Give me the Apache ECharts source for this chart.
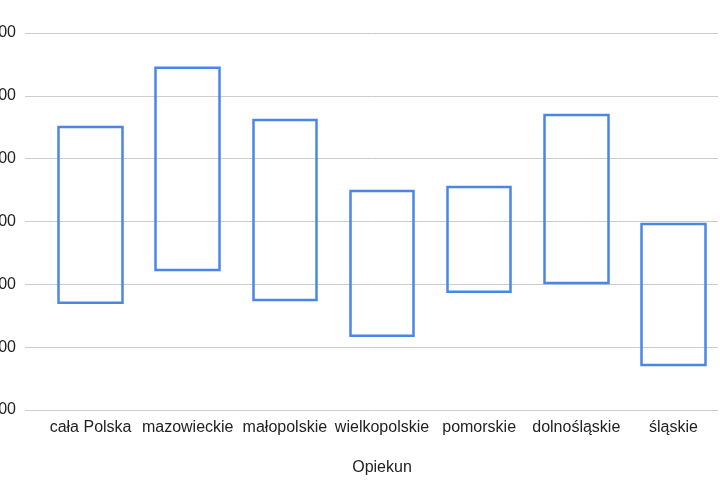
<!DOCTYPE html>
<html>
<head>
<meta charset="utf-8">
<script src="https://cdn.jsdelivr.net/npm/echarts@6/dist/echarts.min.js"></script>
<style>
  html, body { margin: 0; padding: 0; background: #fff; }
  #chart { width: 720px; height: 500px; }
</style>
</head>
<body>
<div id="chart"></div>
<script>
// dane
const regions = ["cała Polska", "mazowieckie", "małopolskie", "wielkopolskie", "pomorskie", "dolnośląskie", "śląskie"];
const lowValues = [2741, 2846, 2750, 2636, 2776, 2804, 2543];
const highValues = [3301, 3489, 3323, 3097, 3110, 3339, 2992];
const yTicks = [2400, 2600, 2800, 3000, 3200, 3400, 3600];

const boxes = regions.map((r, i) => [lowValues[i], highValues[i], lowValues[i], highValues[i]]);

const blue = "#4a86e8";
const font = "Liberation Sans, Arial, sans-serif";

let myChart = echarts.init(document.getElementById("chart"));
myChart.setOption({
  animation: false,
  grid: [
    // siatka tła (linie poziome)
    { left: 25, right: 2, top: 33, bottom: 90, outerBoundsMode: "none" },
    // właściwy wykres
    { left: 42, right: -2, top: 33, bottom: 90, outerBoundsMode: "none" }
  ],
  xAxis: [
    { gridIndex: 0, type: "category", data: regions, show: false },
    {
      gridIndex: 1,
      type: "category",
      data: regions,
      axisLine: { show: false },
      axisTick: { show: false },
      axisLabel: { color: "#222", fontSize: 16, fontFamily: font, margin: 10, interval: 0 },
      name: "Opiekun",
      nameLocation: "middle",
      nameGap: 50,
      nameTextStyle: { color: "#222", fontSize: 16, fontFamily: font }
    }
  ],
  yAxis: [
    {
      gridIndex: 0,
      type: "value",
      min: yTicks[0],
      max: yTicks[yTicks.length - 1],
      interval: 200,
      axisLine: { show: false },
      axisTick: { show: false },
      splitLine: { lineStyle: { color: "#cccccc", width: 1 } },
      axisLabel: { color: "#222", fontSize: 16, fontFamily: font, margin: 9, formatter: (v) => String(v) }
    },
    {
      gridIndex: 1,
      type: "value",
      min: yTicks[0],
      max: yTicks[yTicks.length - 1],
      interval: 200,
      show: false,
      splitLine: { show: false }
    }
  ],
  series: [
    {
      type: "candlestick",
      xAxisIndex: 1,
      yAxisIndex: 1,
      data: boxes,
      barWidth: 64,
      barMaxWidth: 80,
      itemStyle: {
        color: "rgba(255,255,255,0)",
        color0: "rgba(255,255,255,0)",
        borderColor: blue,
        borderColor0: blue,
        borderWidth: 2.5
      }
    }
  ]
});
</script>
</body>
</html>
